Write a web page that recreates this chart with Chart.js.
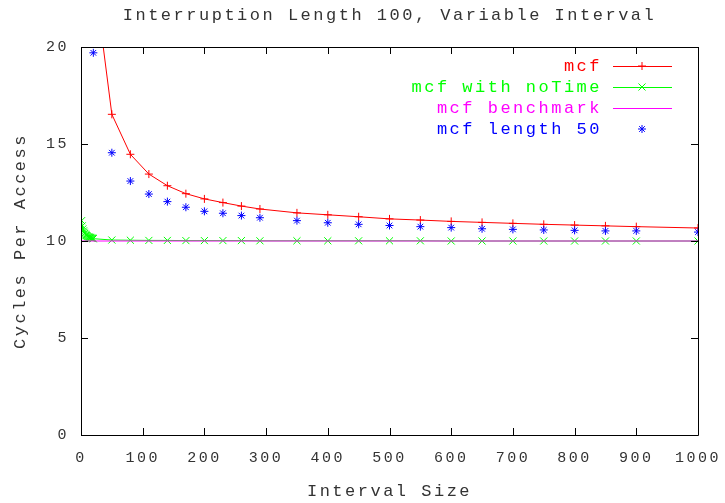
<!DOCTYPE html>
<html>
<head>
<meta charset="utf-8">
<script src="https://cdn.jsdelivr.net/npm/chart.js@4/dist/chart.umd.min.js"></script>
<style>
html, body { margin: 0; padding: 0; background: #fff; }
#wrap { width: 725px; height: 503px; }
</style>
</head>
<body>
<div id="wrap"><canvas id="chart"></canvas></div>
<script>
var titleText = 'Interruption Length 100, Variable Interval';
var xTicks = [0, 100, 200, 300, 400, 500, 600, 700, 800, 900, 1000];
var yTicks = [0, 5, 10, 15, 20];

// mcf
var mcfX = [20, 50, 80, 110, 140, 170, 200, 230, 260, 290, 350, 400, 450, 500, 550, 600, 650, 700, 750, 800, 850, 900, 1000];
var mcfY = [24.0, 16.53, 14.47, 13.45, 12.85, 12.44, 12.17, 11.98, 11.8, 11.65, 11.45, 11.35, 11.25, 11.14, 11.08, 11.01, 10.96, 10.91, 10.86, 10.82, 10.78, 10.74, 10.67];

// mcf with noTime
var noTimeX = [1, 2, 3, 4, 5, 6, 7, 8, 9, 10, 11, 12, 13, 14, 15, 16, 17, 18, 19, 20, 50, 80, 110, 140, 170, 200, 230, 260, 290, 350, 400, 450, 500, 550, 600, 650, 700, 750, 800, 850, 900, 1000];
var noTimeY = [11.05, 10.78, 10.62, 10.52, 10.45, 10.39, 10.35, 10.31, 10.28, 10.25, 10.23, 10.21, 10.2, 10.18, 10.17, 10.16, 10.15, 10.14, 10.13, 10.12, 10.05, 10.04, 10.03, 10.03, 10.02, 10.02, 10.02, 10.02, 10.01, 10.01, 10.01, 10.01, 10.01, 10.01, 10.0, 10.0, 10.0, 10.0, 10.0, 10.0, 10.0, 10.0];

// mcf benchmark
var benchX = [1, 1000];
var benchY = [10, 10];

// mcf length 50
var len50X = [20, 50, 80, 110, 140, 170, 200, 230, 260, 290, 350, 400, 450, 500, 550, 600, 650, 700, 750, 800, 850, 900, 1000];
var len50Y = [19.7, 14.55, 13.09, 12.42, 12.03, 11.74, 11.53, 11.43, 11.31, 11.2, 11.05, 10.94, 10.86, 10.8, 10.74, 10.69, 10.63, 10.6, 10.57, 10.55, 10.52, 10.52, 10.46];

function pts(xs, ys) {
	return xs.map(function(x, i) { return { x: x, y: ys[i] }; });
}

var monoFont = "'Liberation Mono', monospace";
var spacing = '2.5px';

var gnuFrame = {
	id: 'gnuFrame',
	beforeUpdate: function(chart) { chart.ctx.letterSpacing = spacing; },
	beforeDraw: function(chart) { chart.ctx.letterSpacing = spacing; },
	afterDraw: function(chart) {
		var ctx = chart.ctx, a = chart.chartArea;
		var xs = chart.scales.x, ys = chart.scales.y;
		ctx.save();
		ctx.letterSpacing = spacing;
		ctx.strokeStyle = '#000';
		ctx.lineWidth = 1;
		ctx.beginPath();
		ctx.rect(Math.round(a.left) + 0.5, Math.round(a.top) + 0.5, Math.round(a.right - a.left), Math.round(a.bottom - a.top));
		ctx.stroke();

		// inward ticks, mirrored
		ctx.beginPath();
		xTicks.forEach(function(v) {
			var px = Math.round(xs.getPixelForValue(v)) + 0.5;
			ctx.moveTo(px, a.bottom); ctx.lineTo(px, a.bottom - 7);
			ctx.moveTo(px, a.top); ctx.lineTo(px, a.top + 7);
		});
		yTicks.forEach(function(v) {
			var py = Math.round(ys.getPixelForValue(v)) + 0.5;
			ctx.moveTo(a.left, py); ctx.lineTo(a.left + 7, py);
			ctx.moveTo(a.right, py); ctx.lineTo(a.right - 7, py);
		});
		ctx.stroke();

		// title
		ctx.fillStyle = '#333';
		ctx.font = '17px ' + monoFont;
		ctx.textAlign = 'center';
		ctx.textBaseline = 'middle';
		ctx.fillText(titleText, (a.left + a.right) / 2, 15);

		// legend, gnuplot style
		ctx.textAlign = 'right';
		chart.data.datasets.forEach(function(ds, i) {
			var y = 66 + i * 21;
			ctx.fillStyle = ds.borderColor;
			ctx.fillText(ds.label, a.right - 96, y);
			ctx.strokeStyle = ds.borderColor;
			ctx.lineWidth = 1;
			if (ds.showLine !== false) {
				ctx.beginPath();
				ctx.moveTo(a.right - 85, y + 0.5);
				ctx.lineTo(a.right - 26, y + 0.5);
				ctx.stroke();
			}
			if (ds.pointRadius > 0) {
				Chart.helpers.drawPoint(ctx, {
					pointStyle: ds.pointStyle, radius: ds.pointRadius, borderWidth: 1, rotation: 0
				}, a.right - 56, y);
			}
		});
		ctx.restore();
	}
};

var ctx = document.getElementById('chart').getContext('2d');
var myChart = new Chart(ctx, {
	type: 'scatter',
	data: {
		datasets: [
			{
				label: 'mcf',
				data: pts(mcfX, mcfY),
				showLine: true,
				borderColor: '#ff0000',
				backgroundColor: '#ff0000',
				borderWidth: 1,
				pointStyle: 'cross',
				pointRadius: 4,
				pointBorderWidth: 1,
				order: 4
			},
			{
				label: 'mcf with noTime',
				data: pts(noTimeX, noTimeY),
				showLine: true,
				borderColor: '#00ff00',
				backgroundColor: '#00ff00',
				borderWidth: 1,
				pointStyle: 'crossRot',
				pointRadius: 5,
				pointBorderWidth: 1,
				order: 3
			},
			{
				label: 'mcf benchmark',
				data: pts(benchX, benchY),
				showLine: true,
				borderColor: '#ff00ff',
				backgroundColor: '#ff00ff',
				borderWidth: 1,
				pointRadius: 0,
				order: 2
			},
			{
				label: 'mcf length 50',
				data: pts(len50X, len50Y),
				showLine: false,
				borderColor: '#0000ff',
				backgroundColor: '#0000ff',
				pointStyle: 'star',
				pointRadius: 4,
				pointBorderWidth: 1,
				order: 1
			}
		]
	},
	options: {
		responsive: true,
		maintainAspectRatio: false,
		animation: false,
		layout: { padding: { top: 47, right: 27, left: 0, bottom: 0 } },
		plugins: {
			legend: { display: false },
			tooltip: { enabled: false },
			title: { display: false }
		},
		elements: { line: { tension: 0 } },
		scales: {
			x: {
				type: 'linear',
				min: 0,
				max: 1000,
				afterFit: function(s) { s.height = 68; s.paddingLeft = 0; s.paddingRight = 0; },
				afterBuildTicks: function(s) { s.ticks = xTicks.map(function(v) { return { value: v }; }); },
				grid: { display: false, drawTicks: false },
				border: { display: false },
				ticks: {
					padding: 14,
					color: '#333',
					maxRotation: 0,
					minRotation: 0,
					autoSkip: false,
					font: { family: monoFont, size: 15 },
					callback: function(v) { return String(v); }
				},
				title: {
					display: true,
					text: 'Interval Size',
					color: '#333',
					font: { family: monoFont, size: 17 },
					padding: { top: 0, bottom: 1 }
				}
			},
			y: {
				type: 'linear',
				min: 0,
				max: 20,
				afterFit: function(s) { s.width = 81; s.paddingTop = 0; s.paddingBottom = 0; },
				afterBuildTicks: function(s) { s.ticks = yTicks.map(function(v) { return { value: v }; }); },
				grid: { display: false, drawTicks: false },
				border: { display: false },
				ticks: {
					padding: 12,
					color: '#333',
					font: { family: monoFont, size: 15 },
					callback: function(v) { return String(v); }
				},
				title: {
					display: true,
					text: 'Cycles Per Access',
					color: '#333',
					font: { family: monoFont, size: 17 },
					padding: { top: 10, bottom: 0 }
				}
			}
		}
	},
	plugins: [gnuFrame]
});
</script>
</body>
</html>
